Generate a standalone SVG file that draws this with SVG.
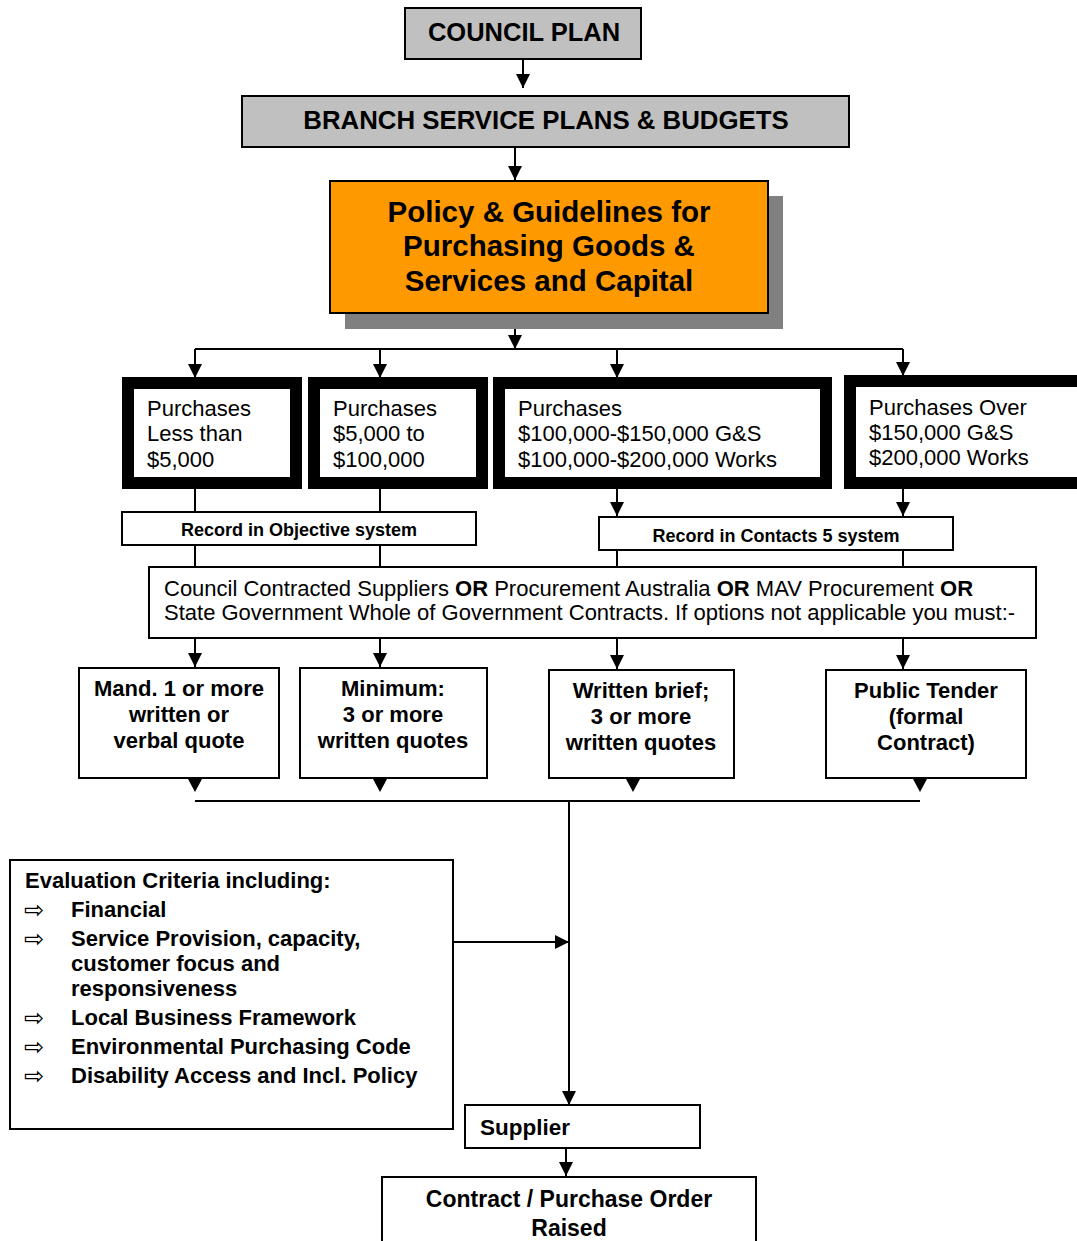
<svg xmlns="http://www.w3.org/2000/svg" width="1077" height="1241" viewBox="0 0 1077 1241">
<style>
text{font-family:"Liberation Sans",Arial,sans-serif;fill:#000}
.b{font-weight:bold}
.box{fill:#fff;stroke:#000;stroke-width:2}
.grey{fill:#c0c0c0;stroke:#000;stroke-width:2}
.thick{fill:#fff;stroke:#000;stroke-width:12}
.ln{fill:none;stroke:#000;stroke-width:2}
.c{text-anchor:middle}
.bul{font-family:"DejaVu Sans",sans-serif;font-weight:normal;font-size:24px}
</style>
<defs>
<marker id="ah" viewBox="0 0 14 14" refX="14" refY="7" markerWidth="14" markerHeight="14" markerUnits="userSpaceOnUse" orient="auto">
<path d="M0,0 L14,7 L0,14 z" fill="#000"/>
</marker>
</defs>
<rect width="1077" height="1241" fill="#fff"/>

<g id="connectors">
<path class="ln" d="M523,59 V88" marker-end="url(#ah)"/>
<path class="ln" d="M515,147 V180" marker-end="url(#ah)"/>
<path class="ln" d="M515,313 V349" marker-end="url(#ah)"/>
<path class="ln" d="M195,349 H903"/>
<path class="ln" d="M195,349 V378" marker-end="url(#ah)"/>
<path class="ln" d="M380,349 V378" marker-end="url(#ah)"/>
<path class="ln" d="M617,349 V378" marker-end="url(#ah)"/>
<path class="ln" d="M903,349 V376" marker-end="url(#ah)"/>
<path class="ln" d="M195,489 V512 M380,489 V512 M195,545 V567 M380,545 V567"/>
<path class="ln" d="M617,489 V516" marker-end="url(#ah)"/>
<path class="ln" d="M903,489 V516" marker-end="url(#ah)"/>
<path class="ln" d="M617,550 V567 M903,550 V567"/>
<path class="ln" d="M195,638 V667" marker-end="url(#ah)"/>
<path class="ln" d="M380,638 V667" marker-end="url(#ah)"/>
<path class="ln" d="M617,638 V669" marker-end="url(#ah)"/>
<path class="ln" d="M903,638 V669" marker-end="url(#ah)"/>
<polygon points="188,779 202,779 195,792" fill="#000"/>
<polygon points="373,779 387,779 380,792" fill="#000"/>
<polygon points="626,779 640,779 633,792" fill="#000"/>
<polygon points="913,779 927,779 920,792" fill="#000"/>
<path class="ln" d="M195,801 H920"/>
<path class="ln" d="M569,801 V1105" marker-end="url(#ah)"/>
<path class="ln" d="M453,942 H569" marker-end="url(#ah)"/>
<path class="ln" d="M566,1148 V1176" marker-end="url(#ah)"/>
</g>

<g id="council-plan">
<rect class="grey" x="405" y="8" width="236" height="51"/>
<text class="b c" x="524" y="41" font-size="25.5">COUNCIL PLAN</text>
</g>

<g id="branch-plans">
<rect class="grey" x="242" y="96" width="607" height="51"/>
<text class="b c" x="546" y="129" font-size="25.8">BRANCH SERVICE PLANS &amp; BUDGETS</text>
</g>

<g id="policy">
<rect x="345" y="196" width="438" height="133" fill="#808080"/>
<rect x="330" y="181" width="438" height="132" fill="#ff9900" stroke="#000" stroke-width="2"/>
<text class="b c" x="549" y="222" font-size="29.5">Policy &amp; Guidelines for</text>
<text class="b c" x="549" y="256" font-size="29.5">Purchasing Goods &amp;</text>
<text class="b c" x="549" y="291" font-size="29.5">Services and Capital</text>
</g>

<g id="purchases-lt5000">
<rect class="thick" x="128" y="383" width="168" height="100"/>
<text x="147" y="416" font-size="22">Purchases</text>
<text x="147" y="441" font-size="22">Less than</text>
<text x="147" y="467" font-size="22">$5,000</text>
</g>

<g id="purchases-5000-100000">
<rect class="thick" x="314" y="383" width="168" height="100"/>
<text x="333" y="416" font-size="22">Purchases</text>
<text x="333" y="441" font-size="22">$5,000 to</text>
<text x="333" y="467" font-size="22">$100,000</text>
</g>

<g id="purchases-100000-200000">
<rect class="thick" x="499" y="383" width="327" height="100"/>
<text x="518" y="416" font-size="22">Purchases</text>
<text x="518" y="441" font-size="22">$100,000-$150,000 G&amp;S</text>
<text x="518" y="467" font-size="22">$100,000-$200,000 Works</text>
</g>

<g id="purchases-over">
<rect class="thick" x="850" y="381" width="240" height="102"/>
<text x="869" y="415" font-size="22">Purchases Over</text>
<text x="869" y="440" font-size="22">$150,000 G&amp;S</text>
<text x="869" y="465" font-size="22">$200,000 Works</text>
</g>

<g id="record-objective">
<rect class="box" x="122" y="512" width="354" height="33"/>
<text class="b c" x="299" y="536" font-size="18">Record in Objective system</text>
</g>

<g id="record-contacts">
<rect class="box" x="599" y="517" width="354" height="33"/>
<text class="b c" x="776" y="542" font-size="18">Record in Contacts 5 system</text>
</g>

<g id="contracted-suppliers">
<rect class="box" x="149" y="567" width="887" height="71"/>
<text x="164" y="596" font-size="22">Council Contracted Suppliers <tspan class="b">OR</tspan> Procurement Australia <tspan class="b">OR</tspan> MAV Procurement <tspan class="b">OR</tspan></text>
<text x="164" y="620" font-size="22">State Government Whole of Government Contracts. If options not applicable you must:-</text>
</g>

<g id="quote-1">
<rect class="box" x="79" y="668" width="200" height="110"/>
<text class="b c" x="179" y="696" font-size="22">Mand. 1 or more</text>
<text class="b c" x="179" y="722" font-size="22">written or</text>
<text class="b c" x="179" y="748" font-size="22">verbal quote</text>
</g>

<g id="quote-3">
<rect class="box" x="300" y="668" width="187" height="110"/>
<text class="b c" x="393" y="696" font-size="22">Minimum:</text>
<text class="b c" x="393" y="722" font-size="22">3 or more</text>
<text class="b c" x="393" y="748" font-size="22">written quotes</text>
</g>

<g id="written-brief">
<rect class="box" x="549" y="670" width="185" height="108"/>
<text class="b c" x="641" y="698" font-size="22">Written brief;</text>
<text class="b c" x="641" y="724" font-size="22">3 or more</text>
<text class="b c" x="641" y="750" font-size="22">written quotes</text>
</g>

<g id="public-tender">
<rect class="box" x="826" y="670" width="200" height="108"/>
<text class="b c" x="926" y="698" font-size="22">Public Tender</text>
<text class="b c" x="926" y="724" font-size="22">(formal</text>
<text class="b c" x="926" y="750" font-size="22">Contract)</text>
</g>

<g id="evaluation">
<rect class="box" x="10" y="860" width="443" height="269"/>
<g class="b" font-size="22">
<text x="25" y="888">Evaluation Criteria including:</text>
<text class="bul" x="24" y="918">⇨</text>
<text x="71" y="917">Financial</text>
<text class="bul" x="24" y="947">⇨</text>
<text x="71" y="946">Service Provision, capacity,</text>
<text x="71" y="971">customer focus and</text>
<text x="71" y="996">responsiveness</text>
<text class="bul" x="24" y="1026">⇨</text>
<text x="71" y="1025">Local Business Framework</text>
<text class="bul" x="24" y="1055">⇨</text>
<text x="71" y="1054">Environmental Purchasing Code</text>
<text class="bul" x="24" y="1084">⇨</text>
<text x="71" y="1083">Disability Access and Incl. Policy</text>
</g>
</g>

<g id="supplier">
<rect class="box" x="465" y="1105" width="235" height="43"/>
<text class="b" x="480" y="1135" font-size="22.5">Supplier</text>
</g>

<g id="contract">
<rect class="box" x="382" y="1177" width="374" height="80"/>
<text class="b c" x="569" y="1207" font-size="23">Contract / Purchase Order</text>
<text class="b c" x="569" y="1236" font-size="23">Raised</text>
</g>
</svg>
